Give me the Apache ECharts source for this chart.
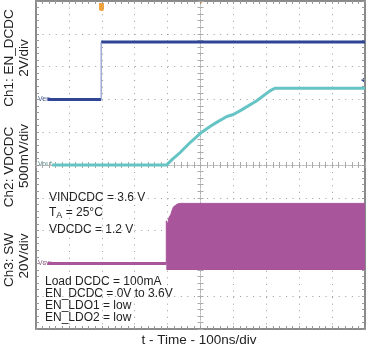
<!DOCTYPE html>
<html>
<head>
<meta charset="utf-8">
<script src="https://cdn.jsdelivr.net/npm/echarts@6/dist/echarts.min.js"></script>
<style>
html, body { margin: 0; padding: 0; background: #fff; }
#main { width: 367px; height: 353px; }
</style>
</head>
<body>
<div id="main"></div>
<script>
// time in ns (100ns/div, trigger at centre), voltages in V
var enT = [-465, -302, -302, 500];
var enV = [0, 0, 3.5, 3.5];

var voutT = [-451, -103, -85, -62, -30, 4, 30, 49, 80, 100, 125, 171, 211, 226, 500];
var voutV = [0, 0, 0.09, 0.19, 0.35, 0.50, 0.59, 0.65, 0.74, 0.77, 0.84, 0.98, 1.13, 1.17, 1.17];

var swBaseT = [-465, -104];
var swBaseV = [0, 0];
// upper envelope of the switching burst, filled down to swLow
var swTopT = [-104, -104, -101, -99, -97, -94, -90, -86, -82, -77, -70, -62, 500];
var swTopV = [0, 26, 27, 24, 27.5, 28, 30, 32.5, 34.5, 35.5, 36.2, 36.6, 36.6];
var swLow = -4;

function pairs(xs, ys) {
	var out = [];
	for (var i = 0; i < xs.length; i++) out.push([xs[i], ys[i]]);
	return out;
}

var FONT = '"Liberation Sans", Arial, sans-serif';
var gridCol = '#9a9a9a';

var frameAxis = function (pos) {
	return {
		type: 'value', min: -500, max: 500, interval: 100, position: pos,
		axisLine: { show: true, onZero: false, lineStyle: { color: '#8a8a8a', width: 2 } },
		axisTick: { show: true, inside: true, length: 3, lineStyle: { color: '#999' } },
		minorTick: { show: true, splitNumber: 5, length: 3, lineStyle: { color: '#999' } },
		axisLabel: { show: false },
		splitLine: { show: false }
	};
};
var frameYAxis = function (pos) {
	return {
		type: 'value', min: -5, max: 5, interval: 1, position: pos,
		axisLine: { show: true, onZero: false, lineStyle: { color: '#8a8a8a', width: 2 } },
		axisTick: { show: true, inside: true, length: 3, lineStyle: { color: '#999' } },
		minorTick: { show: true, splitNumber: 5, length: 3, lineStyle: { color: '#999' } },
		axisLabel: { show: false },
		splitLine: { show: false }
	};
};
var centreX = function (pos) {
	return {
		type: 'value', min: -500, max: 500, interval: 100, position: pos,
		axisLine: { show: true, onZero: true, onZeroAxisIndex: 0, lineStyle: { color: '#b0b0b0', width: 1, type: [1, 2] } },
		axisTick: { show: true, inside: true, length: 3, lineStyle: { color: '#aaa' } },
		minorTick: { show: true, splitNumber: 5, length: 3, lineStyle: { color: '#aaa' } },
		axisLabel: { show: false },
		splitLine: { show: false }
	};
};
var centreY = function (pos) {
	return {
		type: 'value', min: -5, max: 5, interval: 1, position: pos,
		axisLine: { show: true, onZero: true, onZeroAxisIndex: 0, lineStyle: { color: '#b0b0b0', width: 1, type: [1, 2] } },
		axisTick: { show: true, inside: true, length: 3, lineStyle: { color: '#aaa' } },
		minorTick: { show: true, splitNumber: 5, length: 3, lineStyle: { color: '#aaa' } },
		axisLabel: { show: false },
		splitLine: { show: false }
	};
};

var xMain = frameAxis('bottom');
xMain.splitLine = { show: true, lineStyle: { color: gridCol, width: 1, type: [1, 5.58] } };
var yMain = frameYAxis('left');
yMain.splitLine = { show: true, lineStyle: { color: gridCol, width: 1, type: [1, 5.58] } };

var option = {
	animation: false,
	backgroundColor: '#fff',
	grid: { left: 36, top: 1, width: 329, height: 328, containLabel: false },
	xAxis: [xMain, frameAxis('top'), centreX('bottom'), centreX('top')],
	yAxis: [
		yMain, frameYAxis('right'), centreY('left'), centreY('right'),
		// Ch1 2V/div, ground at +2 div
		{ type: 'value', min: -14, max: 6, show: false },
		// Ch2 500mV/div, ground at centre
		{ type: 'value', min: -2.5, max: 2.5, show: false },
		// Ch3 20V/div, ground at -3 div
		{ type: 'value', min: -40, max: 160, show: false }
	],
	series: [
		{
			name: 'SW burst', type: 'line', yAxisIndex: 6, symbol: 'none',
			data: pairs(swTopT, swTopV),
			lineStyle: { color: '#a8559b', width: 1 },
			areaStyle: { color: '#a8559b', opacity: 1, origin: swLow }
		},
		{
			name: 'SW', type: 'line', yAxisIndex: 6, symbol: 'none',
			data: pairs(swBaseT, swBaseV),
			lineStyle: { color: '#a8559b', width: 3 }
		},
		{
			name: 'VDCDC', type: 'line', yAxisIndex: 5, symbol: 'none',
			data: pairs(voutT, voutV),
			lineStyle: { color: '#66c4c4', width: 3 }
		},
		{
			name: 'EN_DCDC', type: 'line', yAxisIndex: 4, symbol: 'none',
			data: [[enT[0], enV[0]], [enT[1], enV[1]], '-', [enT[2], enV[2]], [enT[3], enV[3]]],
			lineStyle: { color: '#2f4596', width: 3 }
		},
		{
			name: 'EN edge', type: 'line', yAxisIndex: 4, symbol: 'none',
			data: [[enT[1], enV[1]], [enT[2], enV[2]]],
			lineStyle: { color: '#6f80c0', width: 1 }
		}
	],
	graphic: [
		// channel labels
		{ type: 'text', x: 9, y: 58, rotation: Math.PI / 2, style: { text: 'Ch1: EN_DCDC', font: '13.5px ' + FONT, fill: '#222', align: 'center', verticalAlign: 'middle' } },
		{ type: 'text', x: 24, y: 58, rotation: Math.PI / 2, style: { text: '2V/div', font: '13.5px ' + FONT, fill: '#222', align: 'center', verticalAlign: 'middle' } },
		{ type: 'text', x: 9, y: 167, rotation: Math.PI / 2, style: { text: 'Ch2: VDCDC', font: '13.5px ' + FONT, fill: '#222', align: 'center', verticalAlign: 'middle' } },
		{ type: 'text', x: 24, y: 156, rotation: Math.PI / 2, style: { text: '500mV/div', font: '13.5px ' + FONT, fill: '#222', align: 'center', verticalAlign: 'middle' } },
		{ type: 'text', x: 9, y: 260, rotation: Math.PI / 2, style: { text: 'Ch3: SW', font: '13.5px ' + FONT, fill: '#222', align: 'center', verticalAlign: 'middle' } },
		{ type: 'text', x: 24, y: 256, rotation: Math.PI / 2, style: { text: '20V/div', font: '13.5px ' + FONT, fill: '#222', align: 'center', verticalAlign: 'middle' } },
		// ground markers
		{ type: 'text', x: 38, y: 99, style: { text: 'Ven', font: '7px ' + FONT, fill: '#4a5a90', verticalAlign: 'middle' } },
		{ type: 'text', x: 38, y: 164, style: { text: 'Vout', font: '7px ' + FONT, fill: '#5a8a8a', verticalAlign: 'middle' } },
		{ type: 'text', x: 38, y: 263, style: { text: 'Vsw', font: '7px ' + FONT, fill: '#8a5a80', verticalAlign: 'middle' } },
		// trigger / position markers
		{ type: 'rect', shape: { x: 99, y: 3, width: 5, height: 8, r: [0, 0, 2, 2] }, style: { fill: '#f2a33a' } },
		{ type: 'polygon', shape: { points: [[198, 0], [204, 0], [201, 4]] }, style: { fill: '#f2a33a' } },
		{ type: 'polygon', shape: { points: [[361, 80], [365, 77], [365, 83]] }, style: { fill: '#2f4596' } },
		// test conditions
		{ type: 'text', x: 49, y: 198, style: { text: 'VINDCDC = 3.6 V', font: '12px ' + FONT, fill: '#222', verticalAlign: 'middle' } },
		{ type: 'text', x: 49, y: 213, style: {
			text: '{n|T}{s|A}{n| = 25°C}', verticalAlign: 'middle',
			rich: { n: { font: '12px ' + FONT, fill: '#222' }, s: { font: '9px ' + FONT, fill: '#222', padding: [6, 0, 0, 0] } }
		} },
		{ type: 'text', x: 49, y: 230, style: { text: 'VDCDC = 1.2 V', font: '12px ' + FONT, fill: '#222', verticalAlign: 'middle' } },
		{ type: 'text', x: 45, y: 282, style: { text: 'Load DCDC = 100mA', font: '12px ' + FONT, fill: '#222', verticalAlign: 'middle' } },
		{ type: 'text', x: 45, y: 294, style: { text: 'EN_DCDC = 0V to 3.6V', font: '12px ' + FONT, fill: '#222', verticalAlign: 'middle' } },
		{ type: 'text', x: 45, y: 306, style: { text: 'EN_LDO1 = low', font: '12px ' + FONT, fill: '#222', verticalAlign: 'middle' } },
		{ type: 'text', x: 45, y: 318, style: { text: 'EN_LDO2 = low', font: '12px ' + FONT, fill: '#222', verticalAlign: 'middle' } },
		// time axis caption
		{ type: 'text', x: 199, y: 340, style: { text: 't - Time - 100ns/div', font: '13.5px ' + FONT, fill: '#222', align: 'center', verticalAlign: 'middle' } }
	]
};

var myChart = echarts.init(document.getElementById('main'));
myChart.setOption(option);
</script>
</body>
</html>
